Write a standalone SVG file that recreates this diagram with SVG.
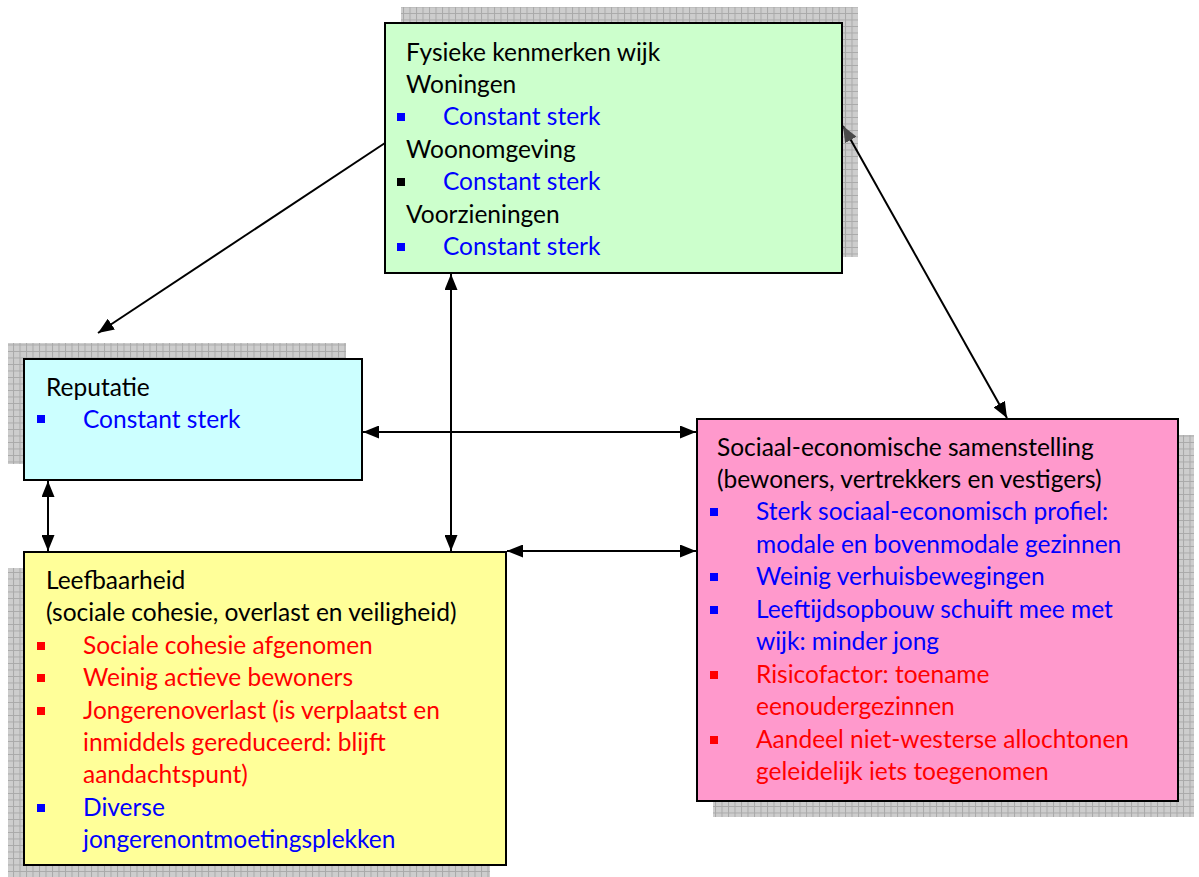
<svg xmlns="http://www.w3.org/2000/svg" width="1199" height="877" viewBox="0 0 1199 877">
  <style>
    text { font-family: Lato, "Open Sans", "Liberation Sans", sans-serif; font-size: 24.5px; }
    .h { fill: #000; }
    .b { fill: #0000ff; }
    .r { fill: #ff0000; }
    .box { stroke: #000; stroke-width: 2; }
    .shadow { fill: url(#grid); opacity: 0.85; }
    .conn { stroke: #000; stroke-width: 2; fill: none; }
  </style>
  <defs>
    <pattern id="grid" width="6.5" height="6.5" patternUnits="userSpaceOnUse">
      <rect width="6.5" height="6.5" fill="#c4c4c4"/>
      <path d="M0 0.5H6.5M0.5 0V6.5" stroke="#9a9a9a" stroke-width="1"/>
    </pattern>
    <marker id="ah" viewBox="0 0 16 13" refX="16" refY="6.5" markerWidth="16" markerHeight="13" markerUnits="userSpaceOnUse" orient="auto-start-reverse">
      <path d="M0 0L16 6.5L0 13Z" fill="#000"/>
    </marker>
    <marker id="ahg" viewBox="0 0 16 13" refX="16" refY="6.5" markerWidth="16" markerHeight="13" markerUnits="userSpaceOnUse" orient="auto-start-reverse">
      <path d="M0 0L16 6.5L0 13Z" fill="#4a4a4a"/>
    </marker>
  </defs>

  <rect width="1199" height="877" fill="#fff"/>

  <!-- Fysieke kenmerken wijk -->
  <g id="fysiek">
    <rect class="shadow" x="401" y="7" width="457" height="250"/>
    <rect class="box" x="385" y="23" width="457" height="250" fill="#ccffcc"/>
    <text class="h" x="406" y="61">Fysieke kenmerken wijk</text>
    <text class="h" x="406" y="93">Woningen</text>
    <rect x="397" y="113" width="8" height="8" fill="#0000ff"/>
    <text class="b" x="443" y="125">Constant sterk</text>
    <text class="h" x="406" y="158">Woonomgeving</text>
    <rect x="397" y="178" width="8" height="8" fill="#000"/>
    <text class="b" x="443" y="190">Constant sterk</text>
    <text class="h" x="406" y="223">Voorzieningen</text>
    <rect x="397" y="243" width="8" height="8" fill="#0000ff"/>
    <text class="b" x="443" y="255">Constant sterk</text>
  </g>

  <!-- Reputatie -->
  <g id="reputatie">
    <rect class="shadow" x="8" y="343" width="338" height="121"/>
    <rect class="box" x="24" y="359" width="338" height="121" fill="#ccffff"/>
    <text class="h" x="46" y="396">Reputatie</text>
    <rect x="37" y="415" width="8" height="8" fill="#0000ff"/>
    <text class="b" x="83" y="428">Constant sterk</text>
  </g>

  <!-- Sociaal-economische samenstelling -->
  <g id="sociaal">
    <rect class="shadow" x="713" y="435" width="481" height="382"/>
    <rect class="box" x="697" y="419" width="481" height="382" fill="#ff99cc"/>
    <text class="h" x="717" y="456">Sociaal-economische samenstelling</text>
    <text class="h" x="717" y="488">(bewoners, vertrekkers en vestigers)</text>
    <rect x="710" y="508" width="8" height="8" fill="#0000ff"/>
    <text class="b" x="756" y="520">Sterk sociaal-economisch profiel:</text>
    <text class="b" x="756" y="553">modale en bovenmodale gezinnen</text>
    <rect x="710" y="573" width="8" height="8" fill="#0000ff"/>
    <text class="b" x="756" y="585">Weinig verhuisbewegingen</text>
    <rect x="710" y="606" width="8" height="8" fill="#0000ff"/>
    <text class="b" x="756" y="618">Leeftijdsopbouw schuift mee met</text>
    <text class="b" x="756" y="650">wijk: minder jong</text>
    <rect x="710" y="671" width="8" height="8" fill="#ff0000"/>
    <text class="r" x="756" y="683">Risicofactor: toename</text>
    <text class="r" x="756" y="715">eenoudergezinnen</text>
    <rect x="710" y="736" width="8" height="8" fill="#ff0000"/>
    <text class="r" x="756" y="748">Aandeel niet-westerse allochtonen</text>
    <text class="r" x="756" y="780">geleidelijk iets toegenomen</text>
  </g>

  <!-- Leefbaarheid -->
  <g id="leefbaarheid">
    <rect class="shadow" x="8" y="568" width="482" height="313"/>
    <rect class="box" x="24" y="552" width="482" height="313" fill="#ffff99"/>
    <text class="h" x="46" y="589">Leefbaarheid</text>
    <text class="h" x="46" y="621">(sociale cohesie, overlast en veiligheid)</text>
    <rect x="37" y="642" width="8" height="8" fill="#ff0000"/>
    <text class="r" x="83" y="654">Sociale cohesie afgenomen</text>
    <rect x="37" y="674" width="8" height="8" fill="#ff0000"/>
    <text class="r" x="83" y="686">Weinig actieve bewoners</text>
    <rect x="37" y="707" width="8" height="8" fill="#ff0000"/>
    <text class="r" x="83" y="719">Jongerenoverlast (is verplaatst en</text>
    <text class="r" x="83" y="751">inmiddels gereduceerd: blijft</text>
    <text class="r" x="83" y="783">aandachtspunt)</text>
    <rect x="37" y="804" width="8" height="8" fill="#0000ff"/>
    <text class="b" x="83" y="816">Diverse</text>
    <text class="b" x="83" y="848">jongerenontmoetingsplekken</text>
  </g>

  <!-- connectors -->
  <g id="connectors">
    <line class="conn" x1="385" y1="143" x2="98" y2="333" marker-end="url(#ah)"/>
    <line class="conn" x1="843" y1="126" x2="1007" y2="418" marker-start="url(#ahg)" marker-end="url(#ah)"/>
    <line class="conn" x1="451" y1="274" x2="451" y2="551" marker-start="url(#ah)" marker-end="url(#ah)"/>
    <line class="conn" x1="363" y1="432" x2="696" y2="432" marker-start="url(#ah)" marker-end="url(#ah)"/>
    <line class="conn" x1="48" y1="481" x2="48" y2="551" marker-start="url(#ah)" marker-end="url(#ah)"/>
    <line class="conn" x1="507" y1="551" x2="696" y2="551" marker-start="url(#ah)" marker-end="url(#ah)"/>
  </g>
</svg>
